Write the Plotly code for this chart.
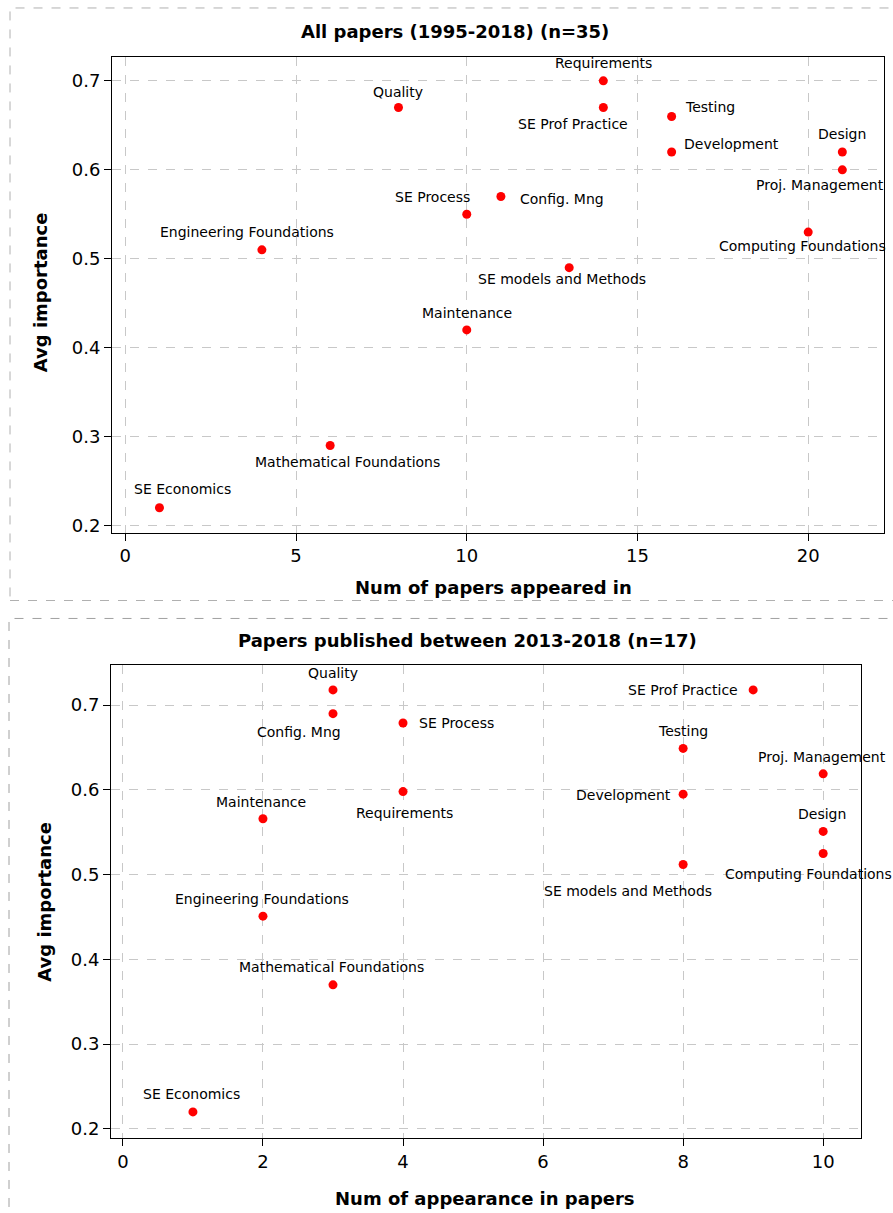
import plotly.graph_objects as go

W, H = 893, 1213

# ---------------- data ----------------
top_topics = ["Requirements", "SE Prof Practice", "Testing", "Development", "Design",
              "Proj. Management", "Computing Foundations", "Config. Mng", "SE Process",
              "SE models and Methods", "Quality", "Engineering Foundations", "Maintenance",
              "Mathematical Foundations", "SE Economics"]
top_num = [14, 14, 16, 16, 21, 21, 20, 11, 10, 13, 8, 4, 10, 6, 1]
top_imp = [0.70, 0.67, 0.66, 0.62, 0.62, 0.60, 0.53, 0.57, 0.55, 0.49, 0.67, 0.51, 0.42, 0.29, 0.22]

bot_topics = ["Quality", "Config. Mng", "SE Process", "Requirements", "Maintenance",
              "SE Prof Practice", "Testing", "Proj. Management", "Development", "Design",
              "Computing Foundations", "SE models and Methods", "Engineering Foundations",
              "Mathematical Foundations", "SE Economics"]
bot_num = [3, 3, 4, 4, 2, 9, 8, 10, 8, 10, 10, 8, 2, 3, 1]
bot_imp = [0.718, 0.690, 0.679, 0.598, 0.566, 0.718, 0.649, 0.619, 0.595, 0.551,
           0.525, 0.512, 0.451, 0.370, 0.220]

top_title = "All papers (1995-2018) (n=35)"
bot_title = "Papers published between 2013-2018 (n=17)"
top_xtitle = "Num of papers appeared in"
bot_xtitle = "Num of appearance in papers"
ytitle = "Avg importance"
top_xticks = [0, 5, 10, 15, 20]
bot_xticks = [0, 2, 4, 6, 8, 10]
yticks = [0.2, 0.3, 0.4, 0.5, 0.6, 0.7]

# label offsets in pixels (dx right, dy down) - styling only
top_off = {"Requirements": (0, -18), "SE Prof Practice": (-30, 16), "Testing": (38, -9),
           "Development": (60, -8), "Design": (0, -18), "Proj. Management": (-22, 15),
           "Computing Foundations": (-6, 14), "Config. Mng": (61, 3), "SE Process": (-34, -17),
           "SE models and Methods": (-7, 11), "Quality": (0, -16),
           "Engineering Foundations": (-15, -18), "Maintenance": (0, -17),
           "Mathematical Foundations": (17, 16), "SE Economics": (23, -19)}
bot_off = {"Quality": (0, -17), "Config. Mng": (-34, 18), "SE Process": (53, 0),
           "Requirements": (1, 21), "Maintenance": (-2, -17), "SE Prof Practice": (-70, 0),
           "Testing": (0, -17), "Proj. Management": (-1, -17), "Development": (-60, 1),
           "Design": (-1, -17), "Computing Foundations": (-15, 21),
           "SE models and Methods": (-55, 27), "Engineering Foundations": (-1, -17),
           "Mathematical Foundations": (-1, -18), "SE Economics": (-1, -18)}

FONT = "DejaVu Sans"
GRID = "#c8c8c8"


def px(x):
    return x / W


def py(y):
    return 1 - y / H


fig = go.Figure()
fig.add_trace(go.Scatter(x=top_num, y=top_imp, mode="markers", xaxis="x", yaxis="y",
                         marker=dict(color="#ff0000", size=9), hoverinfo="text",
                         text=top_topics, showlegend=False))
fig.add_trace(go.Scatter(x=bot_num, y=bot_imp, mode="markers", xaxis="x2", yaxis="y2",
                         marker=dict(color="#ff0000", size=9), hoverinfo="text",
                         text=bot_topics, showlegend=False))

annotations = []
for t, xv, yv in zip(top_topics, top_num, top_imp):
    dx, dy = top_off[t]
    annotations.append(dict(x=xv, y=yv, xref="x", yref="y", text=t, showarrow=False,
                            xshift=dx, yshift=-dy, font=dict(family=FONT, size=14, color="black")))
for t, xv, yv in zip(bot_topics, bot_num, bot_imp):
    dx, dy = bot_off[t]
    annotations.append(dict(x=xv, y=yv, xref="x2", yref="y2", text=t, showarrow=False,
                            xshift=dx, yshift=-dy, font=dict(family=FONT, size=14, color="black")))

def txt(text, x, y, size=18, angle=0):
    return dict(x=px(x), y=py(y), xref="paper", yref="paper", text=f"<b>{text}</b>",
                showarrow=False, xanchor="center", yanchor="middle", textangle=angle,
                font=dict(family=FONT, size=size, color="black"))

annotations += [
    txt(top_title, 455, 32),
    txt(bot_title, 467, 642),
    txt(top_xtitle, 493, 589),
    txt(bot_xtitle, 485, 1201),
    txt(ytitle, 40, 293, angle=-90),
    txt(ytitle, 45, 904, angle=-90),
]

axis_common = dict(showline=True, linecolor="black", linewidth=1, mirror=True,
                   ticks="outside", ticklen=7, tickcolor="black",
                   showgrid=True, gridcolor=GRID, griddash="dash", gridwidth=1,
                   zeroline=False, tickfont=dict(family=FONT, size=18, color="black"))

fig.update_layout(
    width=W, height=H, autosize=False,
    margin=dict(l=0, r=0, t=0, b=0),
    paper_bgcolor="white", plot_bgcolor="white",
    font=dict(family=FONT, color="black"),
    xaxis=dict(domain=[px(112), px(884)], anchor="y", range=[-0.39, 22.22],
               tickvals=top_xticks, **axis_common),
    yaxis=dict(domain=[py(534), py(57)], anchor="x", range=[0.192, 0.727],
               tickvals=yticks, tickformat=".1f", **axis_common),
    xaxis2=dict(domain=[px(111), px(861)], anchor="y2", range=[-0.17, 10.54],
                tickvals=bot_xticks, **axis_common),
    yaxis2=dict(domain=[py(1141), py(667)], anchor="x2", range=[0.189, 0.747],
                tickvals=yticks, tickformat=".1f", **axis_common),
    annotations=annotations,
    shapes=[
        dict(type="rect", xref="paper", yref="paper", x0=px(10), x1=px(900), y0=py(602), y1=py(8),
             line=dict(color="#b0b0b0", width=1, dash="dash"), layer="below"),
        dict(type="rect", xref="paper", yref="paper", x0=px(9), x1=px(900), y0=py(1230), y1=py(620),
             line=dict(color="#a0a0a0", width=1, dash="dash"), layer="below"),
    ],
)

fig.write_html("out.html", config={"displayModeBar": False},
               post_script="document.body.style.margin='0';document.body.style.overflow='hidden';")
